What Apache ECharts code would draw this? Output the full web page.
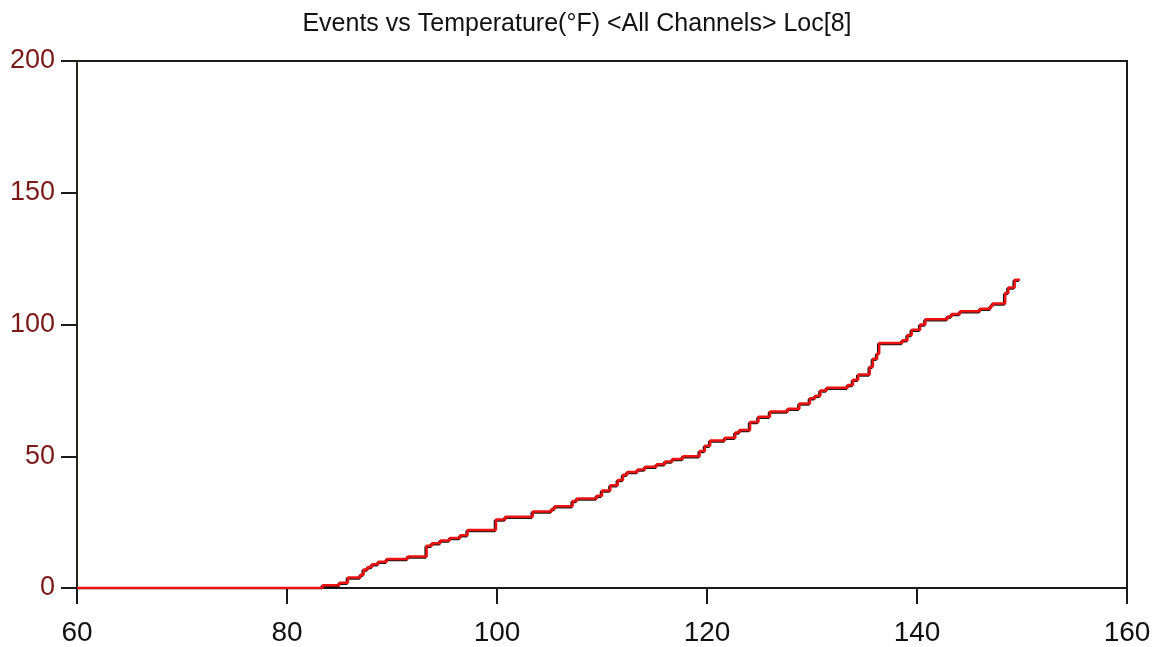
<!DOCTYPE html>
<html>
<head>
<meta charset="utf-8">
<script src="https://cdn.jsdelivr.net/npm/echarts@6/dist/echarts.min.js"></script>
<style>
html,body{margin:0;padding:0;background:#fff;}
#c{width:1154px;height:647px;}
</style>
</head>
<body>
<div id="c"></div>
<script>
var titleText = 'Events vs Temperature(°F) <All Channels> Loc[8]';
var xTicks = [60, 80, 100, 120, 140, 160];
var yTicks = [0, 50, 100, 150, 200];
// temperature (°F) where each step begins
var temps = [60, 83.4, 85.0, 85.8, 87.0, 87.3, 87.7, 88.1, 88.7, 89.5, 91.5, 93.3, 93.8, 94.6, 95.5, 96.5, 97.2,
  99.9, 100.8, 103.4, 105.2, 105.5, 107.2, 107.6, 109.5, 110.0, 110.8, 111.5, 112.0, 112.4, 113.4, 114.1, 115.2, 116.0,
  116.7, 117.7, 119.3, 119.8, 120.3, 121.7, 122.7, 123.1, 124.1, 124.9, 126.0, 127.7, 128.8, 129.8, 130.3, 130.8, 131.4,
  133.4, 133.9, 134.4, 135.5, 135.8, 136.2, 136.4, 138.6, 139.1, 139.5, 140.3, 140.8, 142.9, 143.3, 144.1, 146.0, 147.0,
  147.2, 148.4, 148.7, 149.3, 149.8];
// cumulative events count
var events = [0, 1, 2, 4, 5, 7, 8, 9, 10, 11, 12, 16, 17, 18, 19, 20, 22,
  26, 27, 29, 30, 31, 33, 34, 35, 37, 39, 41, 43, 44, 45, 46, 47, 48,
  49, 50, 52, 54, 56, 57, 59, 60, 63, 65, 67, 68, 70, 72, 73, 75, 76,
  77, 79, 81, 84, 87, 89, 93, 94, 96, 98, 100, 102, 103, 104, 105, 106, 107,
  108, 112, 114, 117, 117];

var data = temps.map(function (t, i) { return [t, events[i]]; });

var chart = echarts.init(document.getElementById('c'), null, {renderer: 'canvas'});
var font = '"Liberation Sans", Arial, sans-serif';
chart.setOption({
  animation: false,
  backgroundColor: '#ffffff',
  title: {
    text: titleText,
    left: 'center',
    top: 7,
    textStyle: {fontFamily: font, fontSize: 25, fontWeight: 'normal', color: '#111'}
  },
  grid: {left: 77, right: 27, top: 61, bottom: 58, show: true, borderColor: '#1a1a1a', borderWidth: 2, backgroundColor: 'transparent'},
  xAxis: {
    type: 'value', min: 60, max: 160, interval: 20,
    axisLine: {show: true, lineStyle: {color: '#1a1a1a', width: 2}},
    axisTick: {show: true, length: 16, lineStyle: {color: '#1a1a1a', width: 2}},
    splitLine: {show: false},
    axisLabel: {fontFamily: font, fontSize: 28, color: '#111', margin: 31,
      formatter: function (v) { return xTicks.indexOf(v) >= 0 ? String(v) : ''; }}
  },
  yAxis: {
    type: 'value', min: 0, max: 200, interval: 50,
    axisLine: {show: true, lineStyle: {color: '#1f2a1a', width: 2}},
    axisTick: {show: true, length: 16, lineStyle: {color: '#1a1a1a', width: 2}},
    splitLine: {show: false},
    axisLabel: {fontFamily: font, fontSize: 27, color: '#7a1818', margin: 22,
      formatter: function (v) { return yTicks.indexOf(v) >= 0 ? String(v) : ''; }}
  },
  series: [
    {
      type: 'line', step: 'end', data: data, symbol: 'none', z: 3,
      lineStyle: {color: '#ee1111', width: 2.5, shadowColor: 'rgba(0,0,0,0.9)', shadowBlur: 0, shadowOffsetX: -1, shadowOffsetY: 1}
    }
  ]
});
</script>
</body>
</html>
